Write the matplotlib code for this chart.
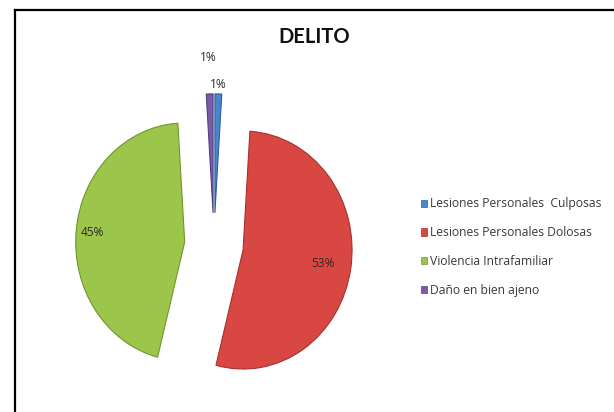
import numpy as np
import matplotlib
matplotlib.use("Agg")
import matplotlib.pyplot as plt
from matplotlib.patches import Patch
from matplotlib.lines import Line2D

# ---- data ----
categories = ["Lesiones Personales  Culposas", "Lesiones Personales Dolosas",
              "Violencia Intrafamiliar", "Daño en bien ajeno"]
values = [1, 53, 45, 1]
title = "DELITO"

# ---- style ----
colors = ["#4A86CC", "#D94742", "#9CC54B", "#7A5BAA"]
edges = ["#2F5F99", "#A8302C", "#6F9630", "#55407E"]
explode = [0.27, 0.27, 0.27, 0.27]
pct_dist = [1.08, 0.74, 0.85, 1.31]

W, H = 614, 412
fig = plt.figure(figsize=(W / 100, H / 100), dpi=100)
fig.patch.set_facecolor("white")

# pie axes in pixel geometry (centre ~ (214,245), rx ~109, ry ~119)
cx, cy, rx, ry = 214, 245, 109, 119
left_px, right_px, top_px, bot_px = 20, 400, 20, 412
ax = fig.add_axes([left_px / W, 1 - bot_px / H, (right_px - left_px) / W, (bot_px - top_px) / H])
wedges, texts, autotexts = ax.pie(values, colors=colors, explode=explode, startangle=90,
                                  counterclock=False, autopct="%1.0f%%",
                                  wedgeprops=dict(linewidth=0.8),
                                  textprops=dict(family="Open Sans", fontsize=8.6, color="#2a2a2a"))
for w, ec in zip(wedges, edges):
    w.set_edgecolor(ec)
for w, t, e, d in zip(wedges, autotexts, explode, pct_dist):
    a = np.deg2rad((w.theta1 + w.theta2) / 2)
    t.set_position(((e + d) * np.cos(a), (e + d) * np.sin(a)))
    t.set_ha("center"); t.set_va("center")
ax.set_aspect("auto")
ax.set_xlim(-(cx - left_px) / rx, (right_px - cx) / rx)
ax.set_ylim(-(bot_px - cy) / ry, (cy - top_px) / ry)
ax.axis("off")

fig.text(314 / W, 1 - 37 / H, title, ha="center", va="center", fontsize=14.5,
         fontweight="bold", family="Lato", color="#111111")

handles = [Patch(facecolor=c, edgecolor=e, linewidth=0.5) for c, e in zip(colors, edges)]
leg = fig.legend(handles, categories, loc="center left", bbox_to_anchor=(416 / W, 1 - 247 / H),
                 frameon=False, prop=dict(family="Open Sans", size=8.7),
                 handlelength=0.55, handleheight=0.55, handletextpad=0.2, labelspacing=1.3,
                 borderaxespad=0)
for t in leg.get_texts():
    t.set_color("#3a3a3a")

# outer border (top and left lines)
fig.add_artist(Line2D([15 / W, 1], [1 - 10 / H, 1 - 10 / H], color="black", lw=1.6,
                      transform=fig.transFigure))
fig.add_artist(Line2D([15 / W, 15 / W], [0, 1 - 10 / H], color="black", lw=1.6,
                      transform=fig.transFigure))

fig.savefig("out.png", dpi=100)
